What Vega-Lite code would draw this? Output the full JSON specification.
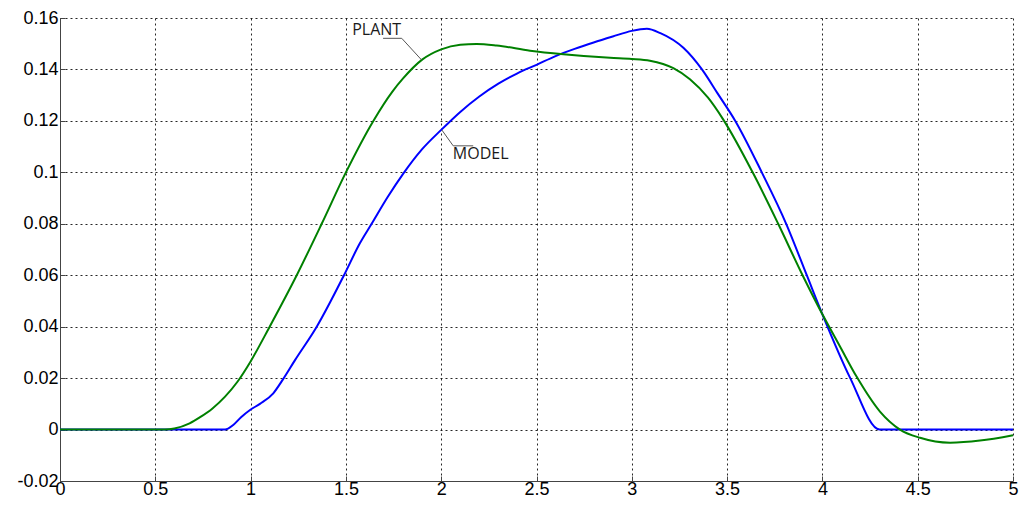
{
  "$schema": "https://vega.github.io/schema/vega-lite/v6.json",
  "width": 953,
  "height": 463,
  "autosize": {"type": "none"},
  "padding": {"left": 60, "top": 18, "right": 11, "bottom": 30},
  "background": "#ffffff",
  "config": {
    "view": {"stroke": null},
    "axis": {
      "grid": true,
      "gridColor": "#000000",
      "gridDash": [2, 3],
      "gridWidth": 1,
      "gridOpacity": 0.85,
      "domainColor": "#444444",
      "domainWidth": 1,
      "tickColor": "#444444",
      "tickSize": -5,
      "labelFont": "Liberation Sans",
      "labelFontSize": 18,
      "labelColor": "#000000",
      "title": null
    }
  },
  "datasets": {
    "curves": [
      {"t": 0, "v": 0, "series": "MODEL"},
      {"t": 0.5, "v": 0, "series": "MODEL"},
      {"t": 0.866, "v": 0, "series": "MODEL"},
      {"t": 0.909, "v": 0.0018, "series": "MODEL"},
      {"t": 0.95, "v": 0.0048, "series": "MODEL"},
      {"t": 0.997, "v": 0.0076, "series": "MODEL"},
      {"t": 1.049, "v": 0.01, "series": "MODEL"},
      {"t": 1.119, "v": 0.0141, "series": "MODEL"},
      {"t": 1.168, "v": 0.0193, "series": "MODEL"},
      {"t": 1.233, "v": 0.027, "series": "MODEL"},
      {"t": 1.347, "v": 0.04, "series": "MODEL"},
      {"t": 1.49, "v": 0.06, "series": "MODEL"},
      {"t": 1.574, "v": 0.0725, "series": "MODEL"},
      {"t": 1.635, "v": 0.08, "series": "MODEL"},
      {"t": 1.72, "v": 0.0905, "series": "MODEL"},
      {"t": 1.801, "v": 0.0995, "series": "MODEL"},
      {"t": 1.9, "v": 0.109, "series": "MODEL"},
      {"t": 2.0, "v": 0.1165, "series": "MODEL"},
      {"t": 2.1, "v": 0.1235, "series": "MODEL"},
      {"t": 2.2, "v": 0.1295, "series": "MODEL"},
      {"t": 2.3, "v": 0.1345, "series": "MODEL"},
      {"t": 2.4, "v": 0.1385, "series": "MODEL"},
      {"t": 2.5, "v": 0.1418, "series": "MODEL"},
      {"t": 2.6, "v": 0.1452, "series": "MODEL"},
      {"t": 2.7, "v": 0.148, "series": "MODEL"},
      {"t": 2.8, "v": 0.1505, "series": "MODEL"},
      {"t": 2.9, "v": 0.1528, "series": "MODEL"},
      {"t": 3.0, "v": 0.155, "series": "MODEL"},
      {"t": 3.079, "v": 0.1558, "series": "MODEL"},
      {"t": 3.15, "v": 0.1541, "series": "MODEL"},
      {"t": 3.272, "v": 0.1483, "series": "MODEL"},
      {"t": 3.368, "v": 0.14, "series": "MODEL"},
      {"t": 3.45, "v": 0.1307, "series": "MODEL"},
      {"t": 3.543, "v": 0.12, "series": "MODEL"},
      {"t": 3.682, "v": 0.1, "series": "MODEL"},
      {"t": 3.81, "v": 0.08, "series": "MODEL"},
      {"t": 3.918, "v": 0.06, "series": "MODEL"},
      {"t": 4.0, "v": 0.0448, "series": "MODEL"},
      {"t": 4.146, "v": 0.02, "series": "MODEL"},
      {"t": 4.3, "v": 0, "series": "MODEL"},
      {"t": 5.0, "v": 0, "series": "MODEL"},
      {"t": 0, "v": 0, "series": "PLANT"},
      {"t": 0.5, "v": 0, "series": "PLANT"},
      {"t": 0.55, "v": 0, "series": "PLANT"},
      {"t": 0.6, "v": 0.0004, "series": "PLANT"},
      {"t": 0.68, "v": 0.0024, "series": "PLANT"},
      {"t": 0.735, "v": 0.0048, "series": "PLANT"},
      {"t": 0.8, "v": 0.0082, "series": "PLANT"},
      {"t": 0.866, "v": 0.0128, "series": "PLANT"},
      {"t": 0.93, "v": 0.0185, "series": "PLANT"},
      {"t": 1.0, "v": 0.0265, "series": "PLANT"},
      {"t": 1.1, "v": 0.04, "series": "PLANT"},
      {"t": 1.242, "v": 0.06, "series": "PLANT"},
      {"t": 1.373, "v": 0.08, "series": "PLANT"},
      {"t": 1.5, "v": 0.1, "series": "PLANT"},
      {"t": 1.644, "v": 0.12, "series": "PLANT"},
      {"t": 1.745, "v": 0.1315, "series": "PLANT"},
      {"t": 1.8, "v": 0.1365, "series": "PLANT"},
      {"t": 1.9, "v": 0.1438, "series": "PLANT"},
      {"t": 2.0, "v": 0.1478, "series": "PLANT"},
      {"t": 2.1, "v": 0.1496, "series": "PLANT"},
      {"t": 2.186, "v": 0.1499, "series": "PLANT"},
      {"t": 2.291, "v": 0.1493, "series": "PLANT"},
      {"t": 2.466, "v": 0.1473, "series": "PLANT"},
      {"t": 2.641, "v": 0.1459, "series": "PLANT"},
      {"t": 2.886, "v": 0.1445, "series": "PLANT"},
      {"t": 3.0, "v": 0.1441, "series": "PLANT"},
      {"t": 3.095, "v": 0.1434, "series": "PLANT"},
      {"t": 3.218, "v": 0.1405, "series": "PLANT"},
      {"t": 3.305, "v": 0.1362, "series": "PLANT"},
      {"t": 3.4, "v": 0.129, "series": "PLANT"},
      {"t": 3.48, "v": 0.1205, "series": "PLANT"},
      {"t": 3.634, "v": 0.1, "series": "PLANT"},
      {"t": 3.768, "v": 0.08, "series": "PLANT"},
      {"t": 3.896, "v": 0.06, "series": "PLANT"},
      {"t": 4.0, "v": 0.0448, "series": "PLANT"},
      {"t": 4.093, "v": 0.0322, "series": "PLANT"},
      {"t": 4.18, "v": 0.0205, "series": "PLANT"},
      {"t": 4.302, "v": 0.007, "series": "PLANT"},
      {"t": 4.407, "v": 0, "series": "PLANT"},
      {"t": 4.512, "v": -0.0032, "series": "PLANT"},
      {"t": 4.67, "v": -0.0051, "series": "PLANT"},
      {"t": 4.827, "v": -0.0043, "series": "PLANT"},
      {"t": 5.0, "v": -0.0022, "series": "PLANT"}
    ],
    "leaders": [
      {"t": 1.695, "v": 0.1521, "t2": 1.793, "v2": 0.1521},
      {"t": 1.793, "v": 0.1521, "t2": 1.897, "v2": 0.1437},
      {"t": 2.003, "v": 0.1165, "t2": 2.063, "v2": 0.1103},
      {"t": 2.063, "v": 0.1103, "t2": 2.168, "v2": 0.1103}
    ],
    "labels": [
      {"t": 1.533, "v": 0.1552, "label": "PLANT"},
      {"t": 2.061, "v": 0.1072, "label": "MODEL"}
    ]
  },
  "layer": [
    {
      "data": {"name": "curves"},
      "mark": {"type": "line", "strokeWidth": 2, "interpolate": "monotone"},
      "encoding": {
        "x": {
          "field": "t", "type": "quantitative",
          "scale": {"domain": [0, 5], "nice": false, "zero": false},
          "axis": {
            "values": [0, 0.5, 1, 1.5, 2, 2.5, 3, 3.5, 4, 4.5, 5],
            "labelExpr": "'' + datum.value",
            "labelPadding": 4,
            "labelFlush": false
          }
        },
        "y": {
          "field": "v", "type": "quantitative",
          "scale": {"domain": [-0.02, 0.16], "nice": false, "zero": false},
          "axis": {
            "values": [-0.02, 0, 0.02, 0.04, 0.06, 0.08, 0.1, 0.12, 0.14, 0.16],
            "labelExpr": "'' + datum.value",
            "labelPadding": 7
          }
        },
        "color": {
          "field": "series", "type": "nominal",
          "scale": {"domain": ["MODEL", "PLANT"], "range": ["#0000ff", "#008000"]},
          "legend": null
        }
      }
    },
    {
      "data": {"name": "leaders"},
      "mark": {"type": "rule", "color": "#555555", "strokeWidth": 1},
      "encoding": {
        "x": {"field": "t", "type": "quantitative"},
        "y": {"field": "v", "type": "quantitative"},
        "x2": {"field": "t2"},
        "y2": {"field": "v2"}
      }
    },
    {
      "data": {"name": "labels"},
      "mark": {"type": "text", "align": "left", "baseline": "middle", "font": "Open Sans", "fontSize": 16, "color": "#1a1a1a"},
      "encoding": {
        "x": {"field": "t", "type": "quantitative"},
        "y": {"field": "v", "type": "quantitative"},
        "text": {"field": "label"}
      }
    }
  ]
}
